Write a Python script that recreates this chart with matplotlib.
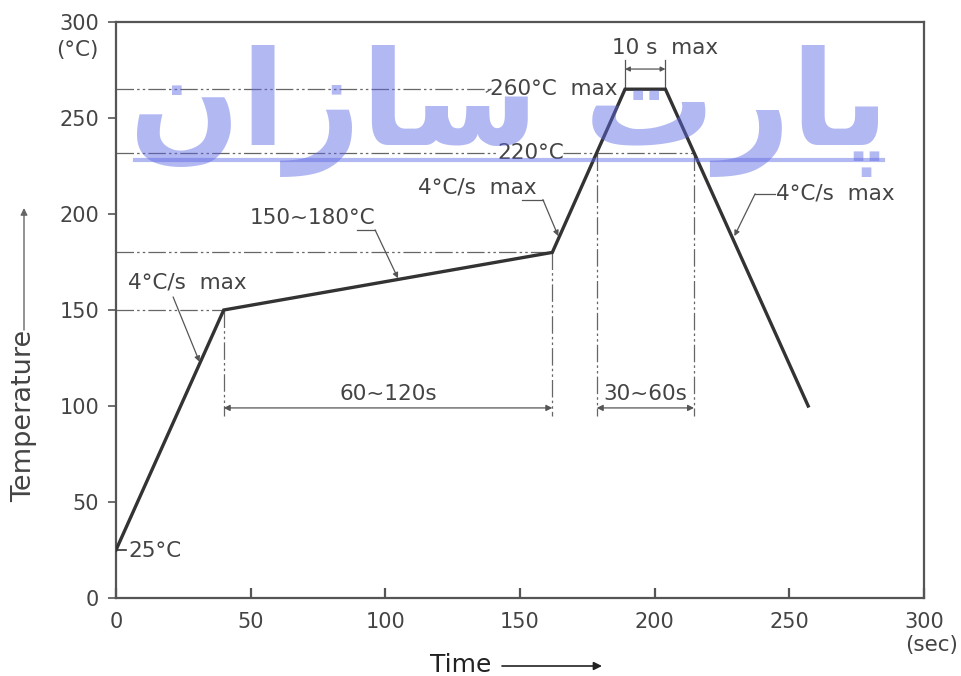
import matplotlib
matplotlib.use('Agg')
import matplotlib.pyplot as plt

plt.rcParams['font.family'] = ['DejaVu Sans']

# ---- data ----
time_s = [0, 40, 162, 189, 204, 257]
temp_c = [25, 150, 180, 265, 265, 100]
x_ticks = [0, 50, 100, 150, 200, 250, 300]
y_ticks = [0, 50, 100, 150, 200, 250, 300]
soak_start, soak_end = 40, 162
liq_in, liq_out = 178.5, 214.6
peak_start, peak_end = 189, 204
t_soak_lo, t_soak_hi = 150, 180
t_liq_line, t_peak = 232, 265
dim_level = 99

W, H = 962, 676
fig = plt.figure(figsize=(W / 100, H / 100), dpi=100)
ax = fig.add_axes([116 / W, 1 - 598 / H, (924 - 116) / W, (598 - 22) / H])
ax.set_xlim(0, 300)
ax.set_ylim(0, 300)

grey = '#555555'
dark = '#333333'
fs = 14.5
afs = 15.5

for s in ax.spines.values():
    s.set_color(grey)
    s.set_linewidth(1.6)

ax.set_xticks(x_ticks)
ax.set_yticks(y_ticks)
ax.set_xticklabels([str(v) for v in x_ticks])
ax.set_yticklabels([str(v) for v in y_ticks])
ax.tick_params(axis='x', direction='in', length=7, width=1.6, color=grey,
               labelcolor='#444444', labelsize=fs + 0.5, pad=10)
ax.tick_params(axis='y', direction='out', length=6, width=1.2, color=grey,
               labelcolor='#444444', labelsize=fs + 0.5, pad=6)

# reference dash-dot lines
ref = dict(color='#666666', lw=0.9, ls=(0, (14, 2.5, 2, 2.5, 2, 2.5)), zorder=1)
ax.plot([0, soak_start], [t_soak_lo, t_soak_lo], **ref)
ax.plot([0, soak_end], [t_soak_hi, t_soak_hi], **ref)
ax.plot([0, 138.5], [t_peak, t_peak], **ref)
ax.plot([0, 141], [t_liq_line, t_liq_line], **ref)
ax.plot([166, liq_out], [t_liq_line, t_liq_line], **ref)
ax.plot([soak_start, soak_start], [t_soak_lo, dim_level - 4], **ref)
ax.plot([soak_end, soak_end], [t_soak_hi, dim_level - 4], **ref)
ax.plot([liq_in, liq_in], [t_liq_line, dim_level - 4], **ref)
ax.plot([liq_out, liq_out], [t_liq_line, dim_level - 4], **ref)

# profile
ax.plot(time_s, temp_c, color=dark, lw=2.4, solid_joinstyle='miter', zorder=3)
ax.plot([0, 3.7], [25, 25], color=dark, lw=1.2)

# dimension arrows
arr = dict(arrowstyle='<|-|>', color='#555555', lw=0.9, mutation_scale=9,
           shrinkA=0, shrinkB=0)
ax.annotate('', xy=(soak_start, dim_level), xytext=(soak_end, dim_level),
            arrowprops=arr)
ax.annotate('', xy=(liq_in, dim_level), xytext=(liq_out, dim_level),
            arrowprops=arr)
ax.text((soak_start + soak_end) / 2, 106.5, '60~120s', ha='center', va='center',
        fontsize=afs, color='#444444')
ax.text((liq_in + liq_out) / 2, 106.5, '30~60s', ha='center', va='center',
        fontsize=afs, color='#444444')

# 10 s max
ax.plot([peak_start, peak_start], [t_peak, 280], color='#555555', lw=0.9)
ax.plot([peak_end, peak_end], [t_peak, 280], color='#555555', lw=0.9)
ax.annotate('', xy=(peak_start, 275.5), xytext=(peak_end, 275.5),
            arrowprops=dict(arrowstyle='<|-|>', color='#555555', lw=0.9,
                            mutation_scale=7, shrinkA=0, shrinkB=0))
ax.text(184, 286.5, '10 s  max', ha='left', va='center', fontsize=afs, color='#444444')

# labels
tk = dict(fontsize=afs, color='#444444', va='center', ha='left')
ax.text(4.5, 24.5, '25°C', **tk)
ax.text(4.5, 164.5, '4°C/s  max', **tk)
ax.text(49.5, 198, '150~180°C', **tk)
ax.text(112, 214, '4°C/s  max', **tk)
ax.text(245, 210.5, '4°C/s  max', **tk)
ax.text(139, 265, '260°C  max', **tk)
ax.text(141.5, 232, '220°C', **tk)

lead = dict(arrowstyle='-|>', color='#555555', lw=0.9, mutation_scale=8,
            shrinkA=0, shrinkB=0)
ax.annotate('', xy=(31, 123), xytext=(21.2, 156.8), arrowprops=lead)
ax.plot([89.5, 96.2], [191.7, 191.7], color='#555555', lw=0.9)
ax.annotate('', xy=(104.7, 166.5), xytext=(96.2, 191.7), arrowprops=lead)
ax.plot([150.7, 158.5], [207.5, 207.5], color='#555555', lw=0.9)
ax.annotate('', xy=(164.2, 188.5), xytext=(158.5, 207.5), arrowprops=lead)
ax.plot([237.3, 244.5], [210.5, 210.5], color='#555555', lw=0.9)
ax.annotate('', xy=(229.6, 188.5), xytext=(237.3, 210.5), arrowprops=lead)
ax.plot([137.5, 139.2], [263.5, 265], color='#555555', lw=0.9)

# axis titles
fig.text(77 / W, 1 - 50 / H, '(°C)', ha='center', va='center', fontsize=afs, color='#444444')
fig.text(932 / W, 1 - 645 / H, '(sec)', ha='center', va='center', fontsize=afs, color='#444444')
fig.text(24 / W, 1 - 416 / H, 'Temperature', rotation=90, ha='center', va='center',
         fontsize=19.5, color='#444444')
fig.text(461 / W, 1 - 665 / H, 'Time', ha='center', va='center', fontsize=18, color='#222222')
ax.annotate('', xy=(24, H - 208), xytext=(24, H - 330), xycoords='figure pixels',
            textcoords='figure pixels',
            arrowprops=dict(arrowstyle='-|>', color='#666666', lw=1.0, mutation_scale=10,
                            shrinkA=0, shrinkB=0))
ax.annotate('', xy=(602, H - 666), xytext=(502, H - 666), xycoords='figure pixels',
            textcoords='figure pixels',
            arrowprops=dict(arrowstyle='-|>', color='#222222', lw=1.2, mutation_scale=12,
                            shrinkA=0, shrinkB=0))

# watermark (presentation forms in visual order)
wm_color = '#5d68e3'
wm = fig.text(509 / W, 1 - 145 / H,
              '\uFEE5\uFE8D\uFEAF\uFE8E\uFEB3 \uFE95\uFEAD\uFE8E\uFB58',
              ha='center', va='baseline', fontsize=100, fontweight='bold',
              color=wm_color, alpha=0.47, zorder=10)
fig.canvas.draw()
bb = wm.get_window_extent()
wm.set_fontsize(100 * 760 / bb.width)
fig.add_artist(plt.Line2D([135 / W, 883 / W], [1 - 160 / H, 1 - 160 / H],
                          transform=fig.transFigure, color=wm_color, alpha=0.47,
                          lw=3, zorder=10))

fig.savefig('out.png', dpi=100)
